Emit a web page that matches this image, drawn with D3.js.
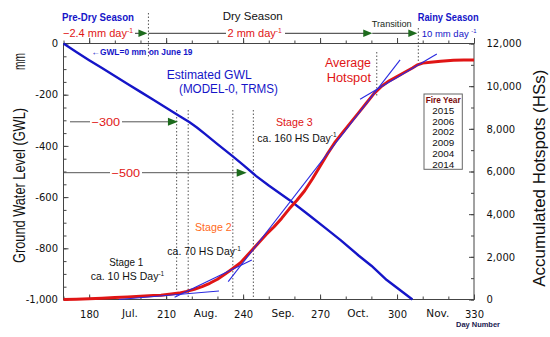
<!DOCTYPE html>
<html><head><meta charset="utf-8">
<script src="https://cdn.jsdelivr.net/npm/d3@7"></script>
<style>body{margin:0;background:#fff}svg{display:block}</style>
</head><body><svg id="c" width="550" height="337"></svg>
<script>
// ---------------- data ----------------
const gwlDays   = [170,175,180,185,190,195,200,205,210,215,219,222,225,230,236,240,245,250,258,265,272,278,285,290,296,301,306];
const gwlValues = [0,-33,-65,-96,-127,-158,-189,-220,-251,-282,-307,-328,-352,-393,-441,-474,-517,-555,-611,-665,-720,-768,-828,-868,-924,-962,-1000];
const hotspotDays   = [170,175,180,185,190,195,200,205,208,212,215,218,221,224,227,230,233,236,239,243,246,249,252,255,258,261,264,267,270,273,276,279,282,285,288,291,294,297,300,303,306,308,310,313,317,322,326,330];
const hotspotValues = [0,10,30,60,90,120,150,190,200,260,300,380,480,600,760,950,1200,1450,1720,2250,2650,3050,3400,3800,4250,4650,5100,5650,6250,6850,7400,7850,8300,8750,9200,9650,10000,10250,10450,10650,10850,11000,11080,11120,11170,11210,11230,11230];
const stageFitDays   = [[191.6,230.6],[213.3,243.4],[234.2,301.2],[285.6,315.5]];
const stageFitValues = [[0,398],[103,1853],[834,11230],[9385,11510]];
const fireYears = ["2015","2006","2002","2009","2004","2014"];
const dayTicks = [180,210,240,270,300,330];
const dayMinorTicks = d3.range(170,331,10);
const monthLabels = ["Jul.","Aug.","Sep.","Oct.","Nov."];
const monthDays = [195.9,225.4,255.6,284.8,315.9];
const gwlTicks = [0,-200,-400,-600,-800,-1000];
const gwlMinorTicks = d3.range(-1000,1,50);
const hsTicks = [0,2000,4000,6000,8000,10000,12000];
const hsMinorTicks = d3.range(0,12001,1000);
const seasonBoundaries = [170,203.1,292.1,308.3];
const gwlMarkLevels = [-300,-500];
const gwlMarkArrowDays = [214.6,241.4];
const stageMarkerDays = [214.1,218.6,236,244];

// ---------------- setup ----------------
const svg = d3.select("#c");
const x  = d3.scaleLinear().domain([170,330]).range([63.5,474]);
const yL = d3.scaleLinear().domain([-1000,0]).range([299.5,43.5]);
const yR = d3.scaleLinear().domain([0,12000]).range([299.5,43.5]);
const SANS = "'Liberation Sans', Arial, sans-serif";
const DJV = "'DejaVu Sans', Verdana, sans-serif";
const BLUE = "#1515c8", RED = "#e01515", GREEN = "#1d6b1d", ORANGE = "#ff6a1a";

function txt(g, xx, yy, s, o={}) {
  const t = g.append("text").attr("x",xx).attr("y",yy)
    .attr("font-family", o.family||SANS).attr("font-size", o.size||10)
    .attr("fill", o.fill||"#111").attr("font-weight", o.weight||"normal")
    .attr("text-anchor", o.anchor||"start").text(s);
  if (o.len) t.attr("textLength", o.len).attr("lengthAdjust","spacingAndGlyphs");
  if (o.rot) t.attr("transform", `rotate(${o.rot},${xx},${yy})`);
  return t;
}
function sup(g, xx, yy, base, supStr, o={}) {
  const t = g.append("text").attr("x",xx).attr("y",yy)
    .attr("font-family", o.family||SANS).attr("font-size", o.size||10)
    .attr("fill", o.fill||"#111").attr("font-weight", o.weight||"normal");
  t.append("tspan").text(base);
  t.append("tspan").attr("dy",-(o.size||10)*0.42).attr("font-size",(o.size||10)*0.62).text(supStr);
  return t;
}
function arrowHead(g, tip, yy, len=9, hw=3.5) {
  g.append("path").attr("d",`M${tip},${yy}L${tip-len},${yy-hw}L${tip-len},${yy+hw}Z`).attr("fill",GREEN);
}

// ---------------- axes ----------------
const axG = svg.append("g").attr("font-family",DJV);
function styleAxis(g){ g.select(".domain").remove(); g.selectAll("line").attr("stroke","#444"); g.selectAll("text").attr("font-family",DJV).attr("fill","#111"); }

axG.append("g").attr("transform","translate(0,299.5)")
  .call(d3.axisBottom(x).tickValues(dayMinorTicks).tickSize(-3).tickFormat("")).call(styleAxis);
axG.append("g").attr("transform","translate(0,299.5)")
  .call(d3.axisBottom(x).tickValues(dayTicks).tickSize(-5).tickPadding(11.5)).call(styleAxis)
  .selectAll("text").attr("font-size",10);
axG.append("g").attr("transform","translate(0,43.5)")
  .call(d3.axisTop(x).tickValues(dayMinorTicks).tickSize(3).tickFormat("")).call(styleAxis);
axG.append("g").attr("transform","translate(0,43.5)")
  .call(d3.axisTop(x).tickValues(dayTicks).tickSize(5.5).tickFormat("")).call(styleAxis);

axG.append("g").attr("transform","translate(63.5,0)")
  .call(d3.axisLeft(yL).tickValues(gwlMinorTicks).tickSize(-3).tickFormat("")).call(styleAxis);
axG.append("g").attr("transform","translate(63.5,0)")
  .call(d3.axisLeft(yL).tickValues(gwlTicks).tickSize(-5).tickPadding(5.5)
    .tickFormat(d => d===0 ? "0" : "-" + d3.format(",")(-d))).call(styleAxis)
  .selectAll("text").attr("font-size",10);

axG.append("g").attr("transform","translate(474,0)")
  .call(d3.axisRight(yR).tickValues(hsMinorTicks).tickSize(-3).tickFormat("")).call(styleAxis);
axG.append("g").attr("transform","translate(474,0)")
  .call(d3.axisRight(yR).tickValues(hsTicks).tickSize(-5).tickPadding(12.5).tickFormat(d3.format(","))).call(styleAxis)
  .selectAll("text").attr("font-size",10);

// frame
svg.append("rect").attr("x",63.5).attr("y",43.5).attr("width",474-63.5).attr("height",299.5-43.5)
  .attr("fill","none").attr("stroke","#444").attr("stroke-width",1);

// month labels
monthLabels.forEach((m,i)=> txt(svg, x(monthDays[i]), 317, m, {family:DJV, size:10.5, anchor:"middle"}));
txt(svg, 478, 327, "Day Number", {size:7.2, weight:"bold", fill:"#1a2050", anchor:"middle", len:44});

// axis titles
txt(svg, 25, 263, "Ground Water Level (GWL)", {size:16, rot:-90, len:155});
txt(svg, 25, 70, "mm", {size:16, rot:-90, len:17});
txt(svg, 545.5, 286.7, "Accumulated Hotspots (HSs)", {size:16, rot:-90, len:217});

// ---------------- dotted markers ----------------
const dot = svg.append("g").attr("stroke","#555").attr("stroke-width",1).attr("stroke-dasharray","1.5,2");
stageMarkerDays.forEach(d => dot.append("line").attr("x1",x(d)).attr("x2",x(d)).attr("y1",110).attr("y2",299));
dot.append("line").attr("x1",x(seasonBoundaries[1])).attr("x2",x(seasonBoundaries[1])).attr("y1",13).attr("y2",58);
dot.append("line").attr("x1",x(seasonBoundaries[2])).attr("x2",x(seasonBoundaries[2])).attr("y1",52).attr("y2",97);
dot.append("line").attr("x1",x(seasonBoundaries[3])).attr("x2",x(seasonBoundaries[3])).attr("y1",28).attr("y2",65);

// ---------------- GWL level arrows ----------------
const lv = svg.append("g");
{
  const yy = yL(gwlMarkLevels[0]) + 1.5, tip = x(gwlMarkArrowDays[0]);
  lv.append("line").attr("x1",70).attr("x2",90).attr("y1",yy).attr("y2",yy).attr("stroke","#555");
  lv.append("line").attr("x1",122).attr("x2",tip-8).attr("y1",yy).attr("y2",yy).attr("stroke","#555");
  arrowHead(lv, tip, yy, 10, 4);
  txt(lv, 91.5, yy+4, "\u2212300", {size:11.5, fill:RED, len:28.5});
}
{
  const yy = yL(gwlMarkLevels[1]) + 1.2, tip = x(gwlMarkArrowDays[1]);
  lv.append("line").attr("x1",64).attr("x2",110).attr("y1",yy).attr("y2",yy).attr("stroke","#555");
  lv.append("line").attr("x1",142).attr("x2",tip-8).attr("y1",yy).attr("y2",yy).attr("stroke","#555");
  arrowHead(lv, tip, yy, 10, 4);
  txt(lv, 111.5, yy+4, "\u2212500", {size:11.5, fill:RED, len:28.5});
}

// ---------------- series ----------------
const gwlLine = d3.line().x((d,i)=>x(gwlDays[i])).y(d=>yL(d));
svg.append("path").attr("d", gwlLine(gwlValues)).attr("fill","none").attr("stroke",BLUE).attr("stroke-width",2.4).attr("stroke-linejoin","round");

const hsLine = d3.line().x((d,i)=>x(hotspotDays[i])).y(d=>yR(d));
svg.append("path").attr("d", hsLine(hotspotValues)).attr("fill","none").attr("stroke",RED).attr("stroke-width",3).attr("stroke-linejoin","round");

stageFitDays.forEach((ds,i)=>{
  svg.append("line").attr("x1",x(ds[0])).attr("x2",x(ds[1]))
    .attr("y1",yR(stageFitValues[i][0])).attr("y2",yR(stageFitValues[i][1]))
    .attr("stroke","#2a2ae0").attr("stroke-width",1.1);
});

// ---------------- season bar ----------------
const sb = svg.append("g");
const SY = 33.3;
txt(sb, 62, 20.5, "Pre-Dry Season", {size:10.5, weight:"bold", fill:BLUE, len:72});
txt(sb, 222.7, 20, "Dry Season", {size:11.5, fill:"#111", len:60});
txt(sb, 417.7, 20.7, "Rainy Season", {size:10.5, weight:"bold", fill:BLUE, len:61});
txt(sb, 371.7, 27.3, "Transition", {size:9, fill:"#1a2a1a", len:40});
sup(sb, 63, 37.2, "\u22122.4 mm day", "-1", {size:11, fill:RED});
sb.append("line").attr("x1",135).attr("x2",x(seasonBoundaries[1])-8).attr("y1",SY).attr("y2",SY).attr("stroke","#333");
arrowHead(sb, x(seasonBoundaries[1])-1, SY, 9, 3.8);
sb.append("line").attr("x1",x(seasonBoundaries[1])).attr("x2",226).attr("y1",SY).attr("y2",SY).attr("stroke","#333");
sup(sb, 227.5, 37.2, "2 mm day", "-1", {size:11, fill:RED});
sb.append("line").attr("x1",285).attr("x2",x(seasonBoundaries[2])-6).attr("y1",SY).attr("y2",SY).attr("stroke","#333");
arrowHead(sb, x(seasonBoundaries[2])-4.5, SY, 9, 3.8);
sb.append("line").attr("x1",x(seasonBoundaries[2])-4.5).attr("x2",x(seasonBoundaries[3])-6).attr("y1",SY).attr("y2",SY).attr("stroke","#333");
arrowHead(sb, x(seasonBoundaries[3])-1, SY, 9, 3.8);
sup(sb, 421.7, 36.5, "10 mm day ", "-1", {size:9.5, fill:BLUE});

// ---------------- annotations ----------------
txt(svg, 91.5, 55.3, "\u2190GWL=0 mm on June 19", {size:8.5, weight:"bold", fill:BLUE, len:101});
txt(svg, 166.7, 78.5, "Estimated GWL", {size:12.5, fill:BLUE, len:85});
txt(svg, 179, 93, "(MODEL-0, TRMS)", {size:12.5, fill:BLUE, len:99});
txt(svg, 325, 66.5, "Average", {size:12.5, fill:RED, len:46});
txt(svg, 326.7, 81.5, "Hotspot", {size:12.5, fill:RED, len:44.3});

txt(svg, 276, 126, "Stage 3", {size:10.8, fill:RED, len:36.7});
sup(svg, 257.3, 141.5, "ca. 160 HS Day", "-1", {size:10.5});
txt(svg, 195, 231, "Stage 2", {size:10.8, fill:ORANGE, len:36.7});
sup(svg, 167.3, 255, "ca. 70 HS Day", "-1", {size:10.5});
txt(svg, 109.3, 266, "Stage 1", {size:10.8, fill:"#111", len:34});
sup(svg, 90.7, 280, "ca. 10 HS Day", "-1", {size:10.5});

// legend
const lg = svg.append("g");
lg.append("rect").attr("x",424).attr("y",94).attr("width",38.3).attr("height",75.3).attr("fill","#fff").attr("stroke","#666");
txt(lg, 443.2, 102.5, "Fire Year", {size:8.5, weight:"bold", fill:"#7a0a0a", anchor:"middle", len:35});
fireYears.forEach((yv,i)=> txt(lg, 443.2, 114 + i*10.73, yv, {size:9.5, anchor:"middle", fill:"#111", len:22}));
</script></body></html>
